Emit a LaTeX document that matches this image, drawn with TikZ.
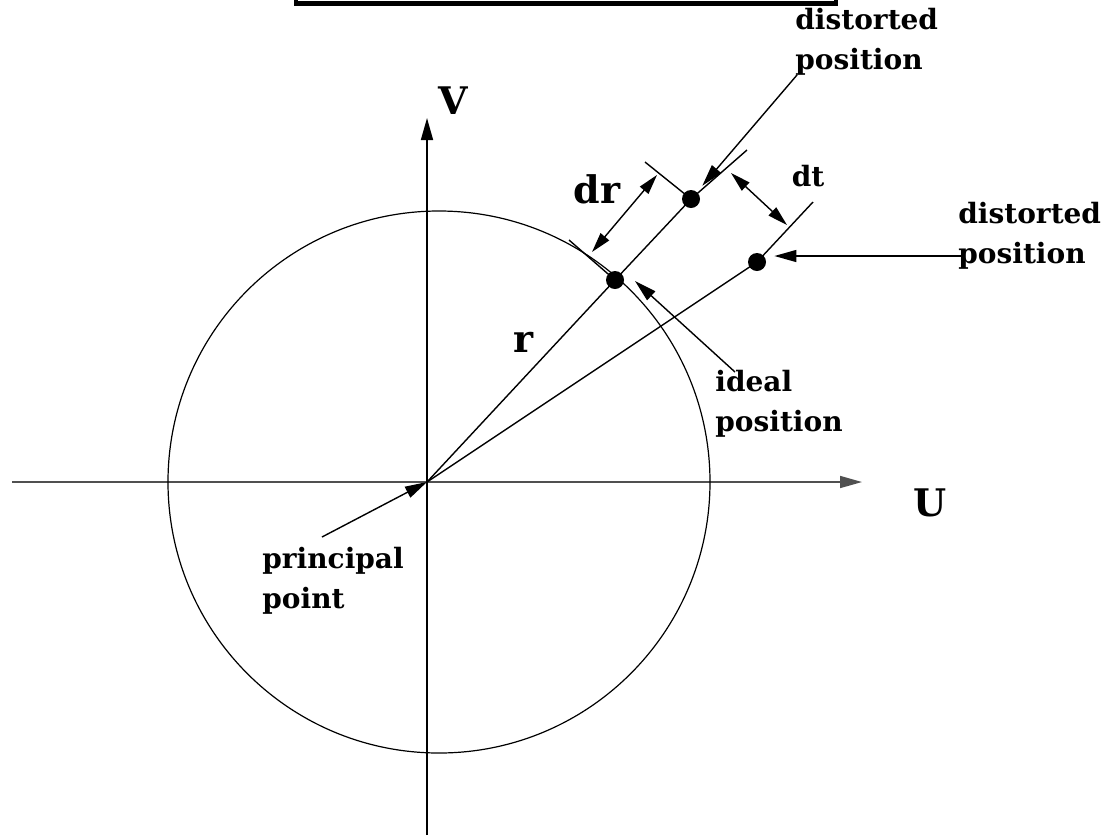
\documentclass[tikz,border=0pt]{standalone}
\usepackage{fontspec}
\setmainfont{DejaVu Serif}
\usetikzlibrary{arrows.meta}
\definecolor{axisgray}{RGB}{80,80,80}
\tikzset{
  axis/.style={-{Triangle[length=11pt,width=6pt]}, line width=0.8pt},
  ray/.style={line width=0.7pt},
  pointer/.style={-{Triangle[length=11pt,width=6pt]}, line width=0.7pt},
  dimarr/.style={{Triangle[length=10pt,width=5.5pt]}-{Triangle[length=10pt,width=5.5pt]}, line width=0.7pt},
  imgpt/.style={circle, fill=black, inner sep=0pt, minimum size=9pt},
  lbl/.style={font=\bfseries\fontsize{14}{20}\selectfont, align=left, inner sep=0pt, anchor=north west},
  biglbl/.style={font=\bfseries\fontsize{19}{22}\selectfont, inner sep=0pt},
}

\begin{document}
\begin{tikzpicture}[x=0.5pt, y=-0.5pt]
  \useasboundingbox (0,0) rectangle (1114,837);
  \clip (0,0) rectangle (1114,837);
  % caption frame, cut off at the top
  \draw[line width=2.25pt] (296,-40) rectangle (836,3.5);
  % axes
  \coordinate (O) at (427,482);
  \coordinate (ustart) at (12,482);
  \coordinate (uend) at (862,482);
  \coordinate (vstart) at (427,835);
  \coordinate (vend) at (427,118);
  \draw[axis, axisgray] (ustart) -- (uend);
  \draw[axis] (vstart) -- (vend);
  \node[biglbl] (lblU) at (930,503) {U};
  \node[biglbl] (lblV) at (453,101) {V};
  % circle of radius r
  \coordinate (C) at (439,482);
  \draw[line width=0.6pt] (C) circle [radius=135.5pt];
  % image points and rays
  \node[imgpt] (ideal) at (615,280) {};
  \node[imgpt] (dist1) at (691,199) {};
  \node[imgpt] (dist2) at (757,262) {};
  \coordinate (ray1end) at (747,150);
  \coordinate (ray2end) at (813,202);
  \coordinate (tick1) at (569,240);
  \coordinate (tick2) at (645,162);
  \draw[ray] (O) -- (ideal.center) -- (dist1.center) -- (ray1end);
  \draw[ray] (O) -- (dist2.center) -- (ray2end);
  \draw[ray] (tick1) -- (ideal.center);
  \draw[ray] (tick2) -- (dist1.center);
  \node[biglbl] (lblr) at (524,342) {r};
  % dr and dt
  \coordinate (dra) at (592,252);
  \coordinate (drb) at (657,175);
  \draw[dimarr] (dra) -- (drb);
  \node[biglbl] (lbldr) at (597,189) {dr};
  \coordinate (dta) at (731,173);
  \coordinate (dtb) at (787,225);
  \draw[dimarr] (dta) -- (dtb);
  \node[font=\bfseries\fontsize{14}{16}\selectfont, inner sep=0pt] (lbldt) at (808,176) {dt};
  % labels and pointers
  \node[lbl] (lbltop) at (795,8) {distorted\\position};
  \node[lbl] (lblright) at (958,202) {distorted\\position};
  \node[lbl] (lblideal) at (715,370) {ideal\\position};
  \node[lbl] (lblpp) at (262,547) {principal\\point};
  \coordinate (ptop) at (797,75);
  \coordinate (pright) at (963,256);
  \coordinate (pideal) at (735,372);
  \coordinate (ppp) at (322,537);
  \coordinate (idealtip) at (635,281);
  \draw[pointer, shorten >=4pt] (ptop) -- (dist1);
  \draw[pointer, shorten >=4pt] (pright) -- (pright -| dist2.east);
  \draw[pointer] (pideal) -- (idealtip);
  \draw[pointer] (ppp) -- (O);
\end{tikzpicture}
\end{document}
